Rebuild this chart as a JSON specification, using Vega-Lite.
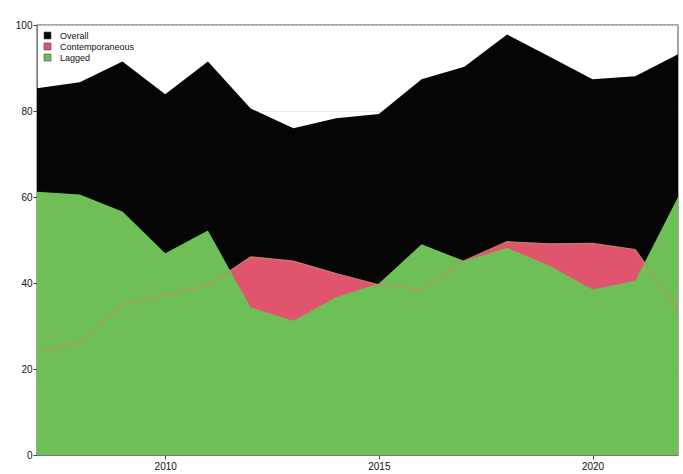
{
  "$schema": "https://vega.github.io/schema/vega-lite/v6.json",
  "width": 641,
  "height": 430,
  "autosize": {"type": "none"},
  "padding": {"left": 37, "top": 25, "right": 5, "bottom": 19},
  "background": "white",
  "config": {
    "font": "Liberation Sans",
    "view": {"stroke": "#8a8a8a", "strokeWidth": 1.5},
    "axis": {
      "labelFont": "Liberation Sans",
      "labelFontSize": 10,
      "labelColor": "#111",
      "domainColor": "#777",
      "tickColor": "#444",
      "tickSize": 4,
      "title": null
    }
  },
  "data": {
    "values": [
      {"year": 2007, "series": "Overall", "value": 85.3},
      {"year": 2008, "series": "Overall", "value": 86.7},
      {"year": 2009, "series": "Overall", "value": 91.5},
      {"year": 2010, "series": "Overall", "value": 83.9},
      {"year": 2011, "series": "Overall", "value": 91.5},
      {"year": 2012, "series": "Overall", "value": 80.6},
      {"year": 2013, "series": "Overall", "value": 76.0},
      {"year": 2014, "series": "Overall", "value": 78.3},
      {"year": 2015, "series": "Overall", "value": 79.3},
      {"year": 2016, "series": "Overall", "value": 87.4},
      {"year": 2017, "series": "Overall", "value": 90.3},
      {"year": 2018, "series": "Overall", "value": 97.8},
      {"year": 2019, "series": "Overall", "value": 92.6},
      {"year": 2020, "series": "Overall", "value": 87.4},
      {"year": 2021, "series": "Overall", "value": 88.1},
      {"year": 2022, "series": "Overall", "value": 93.2},
      {"year": 2007, "series": "Contemporaneous", "value": 23.9},
      {"year": 2008, "series": "Contemporaneous", "value": 26.2},
      {"year": 2009, "series": "Contemporaneous", "value": 35.0},
      {"year": 2010, "series": "Contemporaneous", "value": 37.2},
      {"year": 2011, "series": "Contemporaneous", "value": 39.4},
      {"year": 2012, "series": "Contemporaneous", "value": 46.1},
      {"year": 2013, "series": "Contemporaneous", "value": 45.1},
      {"year": 2014, "series": "Contemporaneous", "value": 42.2},
      {"year": 2015, "series": "Contemporaneous", "value": 39.6},
      {"year": 2016, "series": "Contemporaneous", "value": 38.5},
      {"year": 2017, "series": "Contemporaneous", "value": 45.2},
      {"year": 2018, "series": "Contemporaneous", "value": 49.6},
      {"year": 2019, "series": "Contemporaneous", "value": 49.1},
      {"year": 2020, "series": "Contemporaneous", "value": 49.2},
      {"year": 2021, "series": "Contemporaneous", "value": 47.8},
      {"year": 2022, "series": "Contemporaneous", "value": 33.7},
      {"year": 2007, "series": "Lagged", "value": 61.2},
      {"year": 2008, "series": "Lagged", "value": 60.6},
      {"year": 2009, "series": "Lagged", "value": 56.6},
      {"year": 2010, "series": "Lagged", "value": 46.9},
      {"year": 2011, "series": "Lagged", "value": 52.2},
      {"year": 2012, "series": "Lagged", "value": 34.3},
      {"year": 2013, "series": "Lagged", "value": 31.2},
      {"year": 2014, "series": "Lagged", "value": 36.7},
      {"year": 2015, "series": "Lagged", "value": 39.9},
      {"year": 2016, "series": "Lagged", "value": 49.0},
      {"year": 2017, "series": "Lagged", "value": 45.1},
      {"year": 2018, "series": "Lagged", "value": 48.2},
      {"year": 2019, "series": "Lagged", "value": 44.0},
      {"year": 2020, "series": "Lagged", "value": 38.5},
      {"year": 2021, "series": "Lagged", "value": 40.5},
      {"year": 2022, "series": "Lagged", "value": 60.0}
    ]
  },
  "encoding": {
    "x": {
      "field": "year",
      "type": "quantitative",
      "scale": {"domain": [2007, 2022], "nice": false, "zero": false},
      "axis": {"values": [2010, 2015, 2020], "format": "d", "grid": false, "labelPadding": 2}
    },
    "y": {
      "field": "value",
      "type": "quantitative",
      "scale": {"domain": [0, 100], "nice": false},
      "axis": {"values": [0, 20, 40, 60, 80, 100], "grid": true, "gridDash": [2, 2], "gridColor": "#d8d8d8", "labelPadding": 1}
    }
  },
  "layer": [
    {
      "transform": [{"filter": "datum.series === 'Overall'"}],
      "mark": {"type": "area", "opacity": 1},
      "encoding": {
        "y": {"field": "value", "type": "quantitative", "stack": null},
        "color": {
          "field": "series",
          "type": "nominal",
          "scale": {"domain": ["Overall", "Contemporaneous", "Lagged"], "range": ["#050505", "#e0546d", "#6ebf56"]},
          "legend": {
            "title": null,
            "orient": "top-left",
            "offset": 6,
            "symbolType": "square",
            "symbolSize": 49,
            "symbolStrokeColor": "#444",
            "symbolStrokeWidth": 0.6,
            "symbolOpacity": 1,
            "labelFontSize": 9,
            "labelColor": "#111",
            "rowPadding": 0,
            "labelOffset": 8,
            "padding": 0
          }
        }
      }
    },
    {
      "transform": [{"filter": "datum.series === 'Contemporaneous'"}],
      "mark": {"type": "area", "opacity": 1},
      "encoding": {
        "y": {"field": "value", "type": "quantitative", "stack": null},
        "color": {"field": "series", "type": "nominal"}
      }
    },
    {
      "transform": [{"filter": "datum.series === 'Lagged'"}],
      "mark": {"type": "area", "opacity": 1},
      "encoding": {
        "y": {"field": "value", "type": "quantitative", "stack": null},
        "color": {"field": "series", "type": "nominal"}
      }
    },
    {
      "transform": [{"filter": "datum.series === 'Contemporaneous'"}],
      "mark": {"type": "line", "color": "#c8876c", "strokeWidth": 1.2, "opacity": 0.9},
      "encoding": {
        "y": {"field": "value", "type": "quantitative"}
      }
    }
  ]
}
